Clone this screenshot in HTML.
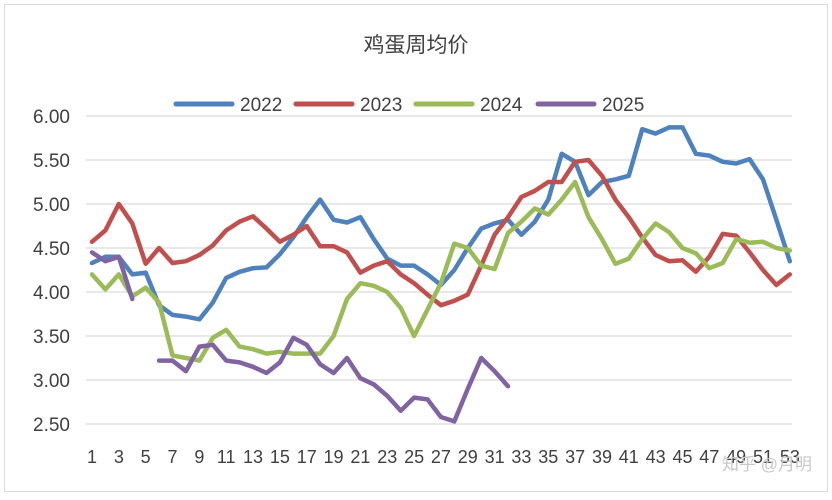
<!DOCTYPE html>
<html><head><meta charset="utf-8"><style>
html,body{margin:0;padding:0;background:#fff}
svg{display:block}
text{font-family:"Liberation Sans","Noto Sans CJK SC",sans-serif}
</style></head><body>
<svg id="c" width="832" height="500" xmlns="http://www.w3.org/2000/svg">
<rect x="4.5" y="4.5" width="823" height="487" fill="#fff" stroke="#d9d9d9"/>
<text x="416" y="52" text-anchor="middle" font-size="21" fill="#404040">鸡蛋周均价</text>
<g id="grid"></g>
<g id="series"></g>
<g font-size="19" fill="#404040">
<line x1="176" y1="104" x2="232" y2="104" stroke="#4f81bd" stroke-width="5" stroke-linecap="round"/><text x="240" y="111">2022</text>
<line x1="296" y1="104" x2="352" y2="104" stroke="#c0504d" stroke-width="5" stroke-linecap="round"/><text x="360" y="111">2023</text>
<line x1="416" y1="104" x2="472" y2="104" stroke="#9bbb59" stroke-width="5" stroke-linecap="round"/><text x="480" y="111">2024</text>
<line x1="538" y1="104" x2="594" y2="104" stroke="#8064a2" stroke-width="5" stroke-linecap="round"/><text x="602" y="111">2025</text>
</g>
<text x="812" y="470" text-anchor="end" font-size="17" fill="#c8c8c8">知乎 @月明</text>
</svg>
<script>
var NS="http://www.w3.org/2000/svg";
function X(w){return 92+(w-1)*13.42;}
function Y(v){return 116+(6-v)*88;}
var g=document.getElementById('grid'),s=document.getElementById('series');
function el(t,a,p){var e=document.createElementNS(NS,t);for(var k in a)e.setAttribute(k,a[k]);(p||g).appendChild(e);return e;}
for(var i=0;i<8;i++){var v=6-i*0.5;el('line',{x1:86,x2:792,y1:Y(v),y2:Y(v),stroke:'#d9d9d9','stroke-width':1.3});
var t=el('text',{x:70,y:Y(v)+7,'text-anchor':'end','font-size':19,fill:'#404040'});t.textContent=v.toFixed(2);}
for(var w=1;w<=53;w+=2){var t=el('text',{x:X(w),y:463,'text-anchor':'middle','font-size':18,fill:'#404040'});t.textContent=w;}
var d={
'#4f81bd':[[1,[4.33,4.4,4.4,4.2,4.22,3.85,3.74,3.72,3.69,3.88,4.16,4.23,4.27,4.28,4.43,4.62,4.85,5.05,4.82,4.79,4.85,4.6,4.38,4.3,4.3,4.2,4.08,4.25,4.5,4.72,4.78,4.82,4.65,4.8,5.05,5.57,5.48,5.1,5.25,5.28,5.32,5.85,5.8,5.87,5.87,5.57,5.55,5.48,5.46,5.51,5.28,4.82,4.35]]],
'#c0504d':[[1,[4.57,4.7,5.0,4.78,4.32,4.5,4.33,4.35,4.42,4.53,4.7,4.8,4.86,4.72,4.57,4.65,4.75,4.52,4.52,4.45,4.22,4.3,4.35,4.2,4.1,3.97,3.85,3.9,3.97,4.3,4.65,4.85,5.08,5.15,5.25,5.25,5.48,5.5,5.32,5.05,4.85,4.62,4.42,4.35,4.36,4.23,4.4,4.66,4.64,4.45,4.25,4.08,4.2]]],
'#9bbb59':[[1,[4.2,4.03,4.2,3.95,4.05,3.88,3.28,3.25,3.22,3.48,3.57,3.38,3.35,3.3,3.32,3.3,3.3,3.3,3.5,3.92,4.1,4.07,4.0,3.82,3.5,3.8,4.1,4.55,4.5,4.3,4.26,4.67,4.8,4.95,4.88,5.05,5.25,4.85,4.6,4.32,4.38,4.6,4.78,4.68,4.5,4.44,4.27,4.33,4.6,4.56,4.57,4.5,4.47]]],
'#8064a2':[[1,[4.45,4.35,4.4,3.92]],[6,[3.22,3.22,3.1,3.38,3.4,3.22,3.2,3.15,3.08,3.2,3.48,3.4,3.18,3.08,3.25,3.02,2.95,2.82,2.65,2.8,2.78,2.58,2.53,2.9,3.25,3.1,2.93]]]
};
for(var c in d){d[c].forEach(function(seg){var pts=seg[1].map(function(v,i){return X(seg[0]+i).toFixed(1)+','+Y(v).toFixed(1);}).join(' ');
el('polyline',{points:pts,fill:'none',stroke:c,'stroke-width':4.5,'stroke-linejoin':'round','stroke-linecap':'round'},s);});}
</script>
</body></html>
